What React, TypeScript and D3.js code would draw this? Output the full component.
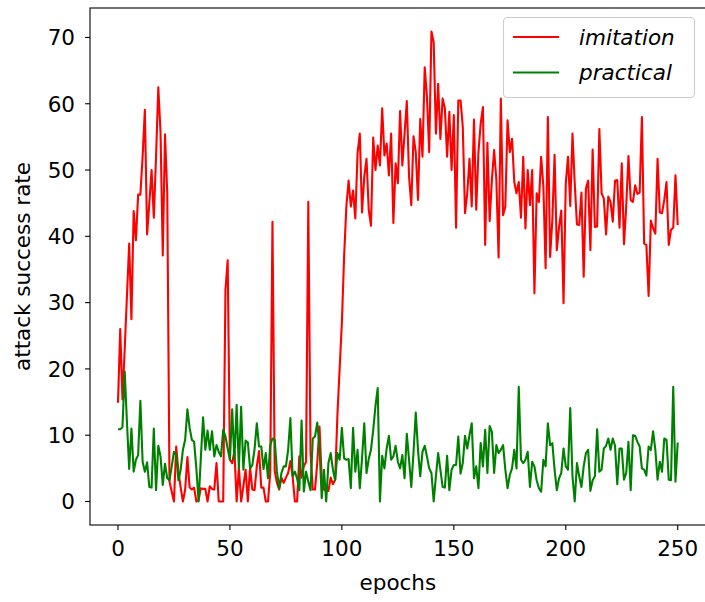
import React from "react";
import * as d3 from "d3";

const imitation: number[] = [
  14.9, 26.0, 15.4, 23, 31, 38.9, 27.5, 43.8, 39.4, 46.3, 46.3, 52, 59.1, 40.3, 45, 50.0, 42.8, 52, 62.5, 55.7, 37.1, 55.4, 46.5,
  3.0, 1.5, 0, 8.3, 4.5, 2.1, 0, 1.8, 6.7, 2.1, 1.8, 2.1, 0, 0.2, 2.0, 1.9, 1.9, 0, 2.3, 1.9, 1.8, 5.8, 0, 0, 0,
  31.9, 36.4, 6.3, 5.8, 7.6, 0, 5.1, 0, 2.3, 4.8, 0, 5.1, 1.8, 1.7, 5.3, 7.6, 2.1, 2.1, 0, 0, 4.3, 42.2, 4.6, 2.8, 1.8, 3.6, 2.8,
  3.6, 4.3, 6.1, 3.8, 0, 0, 6.8, 3.6, 5.3, 6.0, 45.2, 7.3, 1.8, 1.8, 5.8, 11.3, 3.3, 1.8, 1.6, 1.6, 3.6, 2.6, 3.3,
  13, 20, 27, 37, 44.5,
  48.4, 44.5, 46.9, 42.7, 52.5, 55.5, 43.6, 49.0, 51.7, 44.0, 41.6, 54.9, 50.0, 53.7, 50.7, 59.3, 52.2, 54.0, 49.2, 55.5,
  42.0, 51.0, 48.0, 58.9, 50.7, 55.5, 60.4, 49.0, 44.7, 55.1, 52.7, 45.5, 57.7, 52.0, 65.5, 61.0, 52.7, 70.9, 69.3, 55.5,
  63.0, 54.7, 60.8, 59.3, 52.0, 58.8, 50.0, 58.3, 41.3, 60.5, 60.5, 56.5, 43.5, 46.5, 51.7, 44.5, 57.6, 44.0, 52.7, 57.0,
  59.5, 38.7, 54.1, 42.3, 48.5, 53.0, 48.5, 36.8, 60.8, 43.2, 44.5, 57.5, 52.7, 54.7, 48.2, 46.5, 48.2, 42.8, 52.0, 41.2,
  50.0, 44.7, 50.0, 31.4, 46.5, 45.2, 52.0, 47.5, 35.2,
  58.0, 36.9, 42.5, 52.3, 37.9, 41.4, 43.9, 29.9, 48.0, 52.0, 44.6, 55.5, 48.0, 41.8, 41.7, 46.6, 33.9, 47.2, 48.4, 37.9,
  53.1, 41.4, 41.5, 56.2, 46.5, 45.7, 40.3, 46.0, 45.2, 42.2, 48.4, 48.5, 41.3, 51.0, 38.8, 44.5, 52.1, 45.5, 45.2, 47.7,
  46.4, 46.6, 58.0, 38.9, 38.7, 31.0, 42.4, 41.2, 40.4, 51.7, 43.6, 43.5, 45.5, 48.2, 38.7, 41.0, 41.3, 49.2, 41.7,
];

const practical: number[] = [
  10.9, 10.9, 11.2, 19.6, 12, 4.9, 11, 4.5, 6.3, 7.0, 15.2, 6.0, 4.5, 5.9, 2.2, 2.1, 11, 1.7, 8.4, 6.8, 2.5, 5.7, 3.5, 3.2,
  5.3, 7.5, 7.0, 3.2, 4.8, 7.8, 9.3, 13.9, 11.1, 9.3, 9.0, 5, 0, 6.5, 12.7, 7.8, 10.7, 7.8, 10.6,
  6.8, 8.5, 7.5, 6.8, 10.8, 9.8, 8.0, 6.3, 13.9, 6.3, 14.6, 5.0, 14.3, 4.8, 9.2, 8.9, 5.0, 5.5, 7.9, 11.8,
  8.3, 8.3, 4.9, 7.3, 3.5, 8.5, 9.5, 9.3, 4.5, 2.0, 4.3, 5.3, 5.3, 7.8, 12.6, 3.8, 4.5, 3.5, 1.7, 12.2,
  1.5, 4.5, 3.0, 1.7, 9.5, 9.8, 11.9, 8.3, 0.5, 4.8, 0, 5.8, 7.3, 4.8, 3.2, 7.3, 6.3, 11.1, 6.5, 6.3,
  6.4, 2.0, 11.1, 4.5, 7.8, 2.0, 6.5, 11.8, 4.3, 6.4, 7.8, 10.8, 14.4, 17.1, 0, 6.9, 5.0, 8.0, 9.9, 6.3,
  6.8, 8.4, 6.0, 5.0, 7.0, 3.5, 10.2, 6.3, 2.2, 7.4, 13.4, 7.8, 3.8,
  7.5, 8.4, 6.8, 5.0, 4.3, 0, 3.8, 7.3, 4.8, 2.2, 2.1, 6.9, 1.7, 4.8, 5.5, 5.5, 9.8, 4.2, 5.8, 9.9,
  8.0, 10.0, 11.8, 3.5, 5.3, 2.0, 8.8, 5.3, 10.8, 4.3, 11.4, 10.5, 4.3, 8.5, 7.3, 7.8, 8.5, 4.8, 2.0, 4.0,
  5.0, 7.8, 5.0, 17.3, 6.3, 5.8, 6.3, 7.5, 2.2, 6.0, 5.3, 3.2, 2.0, 1.5, 6.3, 5.3, 11.8, 8.5, 8.8, 4.8,
  1.7, 3.5, 4.3, 8.0, 5.3, 4.8, 14.1, 3.8, 0, 5.8, 3.8, 2.2, 5.3,
  7.3, 7.8, 1.6, 3.2, 3.8, 10.9, 4.5, 4.8, 8.0, 8.4, 9.5, 7.8, 9.5, 8.4, 2.6, 8.0, 8.0, 3.3, 4.3, 9.0,
  1.7, 10.0, 9.9, 9.0, 8.3, 5.0, 4.8, 3.9, 8.3, 7.8, 10.6, 7.8, 3.3, 6.0, 4.5, 9.5, 9.3, 3.3, 3.2, 17.3,
  3.0, 8.9,
];

const epochs: number[] = imitation.map((_, i) => i);
const xTicks: number[] = [0, 50, 100, 150, 200, 250];
const yTicks: number[] = [0, 10, 20, 30, 40, 50, 60, 70];
const seriesNames: string[] = ["imitation", "practical"];
const seriesColors: string[] = ["#ff0000", "#008000"];

const W = 705;
const H = 602;
const L = 90;
const R = 705.7;
const T = 8;
const B = 525;
const FONT = "DejaVu Sans, sans-serif";
const FS = 21.5;

export default function App() {
  const xMin = d3.min(epochs)!;
  const xMax = d3.max(epochs)!;
  const xPad = (xMax - xMin) * 0.05;
  const allY = imitation.concat(practical);
  const yMin = d3.min(allY)!;
  const yMax = d3.max(allY)!;
  const yPad = (yMax - yMin) * 0.05;

  const x = d3.scaleLinear().domain([xMin - xPad, xMax + xPad]).range([L, R]);
  const y = d3.scaleLinear().domain([yMin - yPad, yMax + yPad]).range([B, T]);

  const line = d3
    .line<number>()
    .x((_, i) => x(epochs[i]))
    .y((d) => y(d));

  const series = [imitation, practical];

  return (
    <svg
      width={W}
      height={H}
      viewBox={`0 0 ${W} ${H}`}
      style={{ position: "absolute", left: 0, top: 0, display: "block", background: "#ffffff" }}
    >
      <rect x={0} y={0} width={W} height={H} fill="#ffffff" />
      <defs>
        <clipPath id="plot">
          <rect x={L} y={T} width={R - L} height={B - T} />
        </clipPath>
      </defs>
      <g clipPath="url(#plot)">
        {series.map((s, k) => (
          <path
            key={k}
            d={line(s) || ""}
            fill="none"
            stroke={seriesColors[k]}
            strokeWidth={2.1}
            strokeLinejoin="round"
          />
        ))}
      </g>
      {/* spines */}
      <rect x={L} y={T} width={R - L} height={B - T} fill="none" stroke="#000" strokeWidth={1.1} />
      {/* x ticks */}
      {xTicks.map((t) => (
        <g key={"x" + t}>
          <line x1={x(t)} x2={x(t)} y1={B} y2={B + 4.9} stroke="#000" strokeWidth={1.1} />
          <text
            x={x(t)}
            y={B + 31}
            textAnchor="middle"
            fontFamily={FONT}
            fontSize={FS}
            fill="#000"
          >
            {t}
          </text>
        </g>
      ))}
      {/* y ticks */}
      {yTicks.map((t) => (
        <g key={"y" + t}>
          <line x1={L - 4.9} x2={L} y1={y(t)} y2={y(t)} stroke="#000" strokeWidth={1.1} />
          <text
            x={L - 15}
            y={y(t) + 7.8}
            textAnchor="end"
            fontFamily={FONT}
            fontSize={FS}
            fill="#000"
          >
            {t}
          </text>
        </g>
      ))}
      <text
        x={(L + R) / 2}
        y={590}
        textAnchor="middle"
        fontFamily={FONT}
        fontSize={FS}
        fill="#000"
      >
        epochs
      </text>
      <text
        transform={`translate(30, ${(T + B) / 2}) rotate(-90)`}
        textAnchor="middle"
        fontFamily={FONT}
        fontSize={FS}
        fill="#000"
      >
        attack success rate
      </text>
      {/* legend */}
      <g>
        <rect
          x={503.5}
          y={17.5}
          width={191}
          height={80}
          rx={4}
          fill="#ffffff"
          fillOpacity={0.8}
          stroke="#cccccc"
          strokeWidth={1.1}
        />
        {seriesNames.map((n, k) => (
          <g key={n}>
            <line
              x1={513}
              x2={559}
              y1={37 + k * 35.5}
              y2={37 + k * 35.5}
              stroke={seriesColors[k]}
              strokeWidth={2.1}
            />
            <text
              x={579}
              y={37 + k * 35.5 + 7.8}
              fontFamily={FONT}
              fontStyle="italic"
              fontSize={FS}
              fill="#000"
            >
              {n}
            </text>
          </g>
        ))}
      </g>
    </svg>
  );
}
